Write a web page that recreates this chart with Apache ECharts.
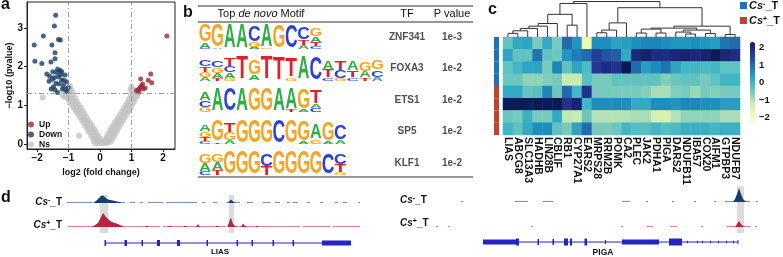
<!DOCTYPE html>
<html>
<head>
<meta charset="utf-8">
<title>Figure</title>
<script src="https://cdn.jsdelivr.net/npm/echarts@6.0.0/dist/echarts.min.js"></script>
<style>
  html, body { margin: 0; padding: 0; background: #fff; }
  #fig { width: 783px; height: 257px; }
</style>
</head>
<body>
<div id="fig"></div>
<script>
const FONT = '"Liberation Sans", Arial, sans-serif';

// ---------- a: volcano ----------
const upPts = [[2.12, 2.79], [1.29, 1.68], [1.61, 1.81], [1.53, 1.65], [1.64, 1.58], [1.35, 1.55],
  [1.27, 1.46], [1.22, 1.41], [1.16, 1.38], [1.37, 1.43], [1.43, 1.45], [1.24, 1.34], [1.31, 1.5]];
const downPts = [[-1.41, 3.33], [-1.45, 3.05], [-1.80, 2.79], [-1.32, 2.70], [-1.26, 2.69], [-2.09, 2.56],
  [-1.53, 2.56], [-1.43, 2.36], [-1.56, 2.12], [-2.07, 2.14], [-1.85, 2.08], [-1.43, 2.2], [-1.69, 1.81],
  [-1.51, 1.67], [-1.48, 1.48], [-1.43, 1.40], [-1.35, 1.33], [-1.11, 1.41], [-1.06, 1.61], [-1.22, 1.65],
  [-1.32, 1.74], [-1.22, 1.87], [-1.27, 1.90], [-1.11, 1.78], [-1.40, 1.57], [-1.16, 1.52], [-1.01, 1.46],
  [-1.50, 1.87], [-1.60, 1.75], [-1.38, 1.85], [-1.30, 1.55], [-1.20, 1.42], [-1.05, 1.35], [-1.62, 1.62],
  [-1.45, 1.72], [-1.15, 1.65], [-1.25, 1.78], [-1.35, 1.93], [-1.55, 1.42]];
const nsPts = [
  [-0.15, 0.02], [-0.05, 0.02], [0.05, 0.02], [0.15, 0.02], [0.22, 0.03],
  [-0.18, 0.08], [-0.08, 0.08], [0.02, 0.08], [0.12, 0.08],
  [-0.22, 0.15], [-0.12, 0.15], [-0.02, 0.15], [-0.28, 0.22], [-0.17, 0.22], [-0.07, 0.22],
  [-0.34, 0.3], [-0.24, 0.3], [-0.14, 0.3], [-0.40, 0.38], [-0.30, 0.38], [-0.19, 0.38],
  [-0.46, 0.46], [-0.36, 0.46], [-0.25, 0.46], [-0.52, 0.54], [-0.42, 0.54], [-0.31, 0.54],
  [-0.58, 0.62], [-0.48, 0.62], [-0.38, 0.62], [-0.64, 0.70], [-0.54, 0.70], [-0.44, 0.70],
  [-0.71, 0.78], [-0.61, 0.78], [-0.50, 0.78], [-0.77, 0.86], [-0.67, 0.86], [-0.56, 0.86],
  [-0.84, 0.94], [-0.73, 0.94], [-0.62, 0.94], [-0.90, 1.02], [-0.80, 1.02], [-0.69, 1.02],
  [-0.97, 1.10], [-0.86, 1.10], [-0.75, 1.10], [-1.03, 1.18], [-0.92, 1.18], [-0.80, 1.18],
  [-1.08, 1.26], [-0.98, 1.26], [-0.86, 1.26], [-0.97, 1.34], [-0.88, 1.34], [-0.99, 1.42],
  [-0.93, 1.42], [-0.96, 1.50], [-1.82, 1.20], [-0.67, 0.21], [-1.15, 1.22], [-1.20, 1.28],
  [0.25, 0.05], [0.32, 0.05], [0.18, 0.12], [0.28, 0.12], [0.38, 0.12],
  [0.22, 0.20], [0.33, 0.20], [0.44, 0.20], [0.27, 0.28], [0.38, 0.28], [0.49, 0.28],
  [0.32, 0.36], [0.43, 0.36], [0.54, 0.36], [0.38, 0.44], [0.49, 0.44], [0.60, 0.44],
  [0.45, 0.52], [0.55, 0.52], [0.66, 0.52], [0.51, 0.60], [0.61, 0.60], [0.72, 0.60],
  [0.57, 0.68], [0.67, 0.68], [0.78, 0.68], [0.64, 0.76], [0.74, 0.76], [0.84, 0.76],
  [0.70, 0.84], [0.80, 0.84], [0.90, 0.84], [0.76, 0.92], [0.86, 0.92], [0.95, 0.92],
  [0.82, 1.00], [0.92, 1.00], [1.00, 1.00], [0.88, 1.08], [0.97, 1.08], [1.06, 1.08],
  [0.93, 1.16], [1.03, 1.16], [1.12, 1.16], [0.98, 1.24], [1.08, 1.24], [1.18, 1.24],
  [1.02, 1.32], [1.12, 1.32], [0.97, 1.40], [1.06, 1.40], [1.00, 1.48]];
const fcCut = [-1, 1];
const pCut = 1.301;
const volcanoTicksX = [-2, -1, 0, 1, 2];
const volcanoTicksY = [0, 1, 2, 3];

// ---------- b: motif table (each position listed top to bottom: [letter, relative height]) ----------
const motifZNF341 = [
  [['G', .68], ['A', .2], ['C', .05]], [['G', .9], ['A', .05]], [['A', .95]], [['A', .95]],
  [['C', .62], ['G', .2], ['A', .08]], [['A', .9], ['G', .05]], [['G', .92]], [['C', .88]],
  [['C', .5], ['T', .22], ['A', .14]], [['G', .32], ['A', .22], ['T', .16], ['C', .12]]];
const motifFOXA3 = [
  [['C', .25], ['T', .22], ['G', .2], ['A', .15]], [['C', .28], ['G', .22], ['A', .2], ['T', .12]],
  [['T', .3], ['C', .25], ['A', .22], ['G', .1]], [['T', .92]], [['G', .6], ['A', .22]], [['T', .92]],
  [['T', .9]], [['T', .75], ['G', .12]], [['A', .92]], [['C', .9]],
  [['A', .35], ['T', .3], ['C', .12]], [['T', .38], ['C', .3], ['G', .1]], [['A', .35], ['T', .28], ['C', .12]],
  [['G', .38], ['A', .25], ['T', .12]], [['G', .35], ['C', .28], ['A', .15]]];
const motifETS1 = [
  [['A', .3], ['C', .28], ['G', .2]], [['A', .92]], [['C', .92]], [['A', .92]], [['G', .92]], [['G', .92]],
  [['A', .92]], [['A', .85], ['T', .08]], [['G', .82], ['A', .08]], [['T', .55], ['A', .18], ['C', .15]]];
const motifSP5 = [
  [['A', .28], ['G', .22], ['T', .18], ['C', .1]], [['G', .85], ['T', .05]], [['T', .35], ['G', .3], ['A', .15]],
  [['G', .88]], [['G', .9]], [['G', .9]], [['C', .88]], [['G', .88]], [['G', .8], ['A', .08]],
  [['A', .6], ['G', .18]], [['G', .72], ['A', .1]], [['C', .6], ['A', .15]]];
const motifKLF1 = [
  [['G', .35], ['A', .3], ['C', .15]], [['G', .3], ['A', .3], ['T', .2]], [['G', .88]], [['G', .88]], [['G', .88]],
  [['C', .45], ['T', .35]], [['G', .88]], [['G', .88]], [['G', .88]], [['G', .88]], [['C', .82]],
  [['C', .4], ['T', .32], ['G', .1]]];
const tfNames = ['ZNF341', 'FOXA3', 'ETS1', 'SP5', 'KLF1'];
const pValues = ['1e-3', '1e-2', '1e-2', '1e-2', '1e-2'];

// ---------- c: heatmap ----------
const genes = ['LIAS', 'ABCG8', 'SLC13A3', 'HADHB', 'LIN28B', 'CBLIF', 'RB1', 'CYP27A1', 'EARS2', 'MRPS28',
  'RRM2B', 'POMK', 'CA2', 'PLEC', 'JAK2', 'PDHA1', 'PIGA', 'DARS2', 'NDUFB11', 'IBA57', 'COX20', 'AIFM1',
  'GTPBP3', 'NDUFB7'];
const heatValues = [
  [-0.3, 0.2, 0.3, -0.5, 0.2, -0.5, 1.0, 0.5, -1.8, 0.6, 0.6, 0.3, 0.4, 0.6, 0.7, 0.7, 0.6, 0.5, 0.5, 0.6, 0.5, 0.4, 0.9, 1.0],
  [0.3, -0.3, -0.3, 0.9, -0.3, -0.4, 0.5, 0.8, 1.0, 1.6, 1.3, 1.2, 0.2, 2.0, 2.1, 1.9, 1.9, 2.0, 2.1, 2.0, 2.1, 2.3, 2.0, 1.9],
  [-0.3, 0.0, 0.3, 0.3, -0.5, 0.7, -0.3, 0.3, -0.1, 1.7, 1.9, 1.8, 2.3, 1.0, 0.4, 0.6, 0.9, 0.3, 0.0, 0.0, -0.1, 0.0, -0.3, -0.3],
  [-0.4, -0.4, -0.7, -0.7, -0.6, -0.5, -1.2, -1.2, -0.2, -0.5, -0.5, -0.3, -0.3, -0.3, -0.3, -0.3, -0.6, -0.4, -0.3, -0.3, -0.5, -0.3, 0.0, 0.0],
  [0.2, 0.2, -0.3, -0.2, 0.7, -0.4, 1.0, 0.0, 1.8, -0.5, -0.5, -0.5, -0.5, -0.5, -0.6, -0.9, -0.9, -0.6, -0.5, -0.8, -0.5, -0.6, -0.5, -0.5],
  [2.3, 2.3, 2.3, 2.3, 2.3, 2.3, 1.8, 2.1, 0.0, 0.6, 0.6, 0.6, 0.6, 0.2, 0.2, 0.6, 0.6, 0.5, 0.7, 0.7, 0.6, 0.6, 0.4, 0.4],
  [-0.4, -0.5, 0.1, -0.5, -0.5, 0.2, -1.1, -1.2, -0.4, -1.0, -1.0, -1.0, -1.0, -0.9, -0.9, -1.4, -1.4, -1.0, -0.7, -0.7, -0.7, -0.7, -0.9, -0.9],
  [0.0, -0.3, 0.2, 0.6, 0.6, -0.3, -0.5, 0.3, 1.0, -0.5, -0.5, -0.4, 0.0, -0.2, -0.2, 0.0, -0.2, -0.1, 0.1, 0.1, 0.1, 0.0, 0.1, 0.1]];
const rowGroups = [0, 0, 0, 0, 1, 1, 1, 1];
const groupSigns = ['-', '+'];
const groupColors = ['#1b75bb', '#c1432e'];
// merges: [childA, childB, height]; ids < 24 are leaves, 24+k is merge k
const dendroMerges = [
  [0, 1, 3.7], [24, 2, 6.3], [25, 3, 8.7], [26, 4, 11], [27, 5, 13.7], [6, 7, 12], [28, 29, 23], [30, 8, 34],
  [9, 10, 4.3], [32, 11, 7], [33, 12, 14.3], [13, 14, 4], [15, 16, 4], [35, 36, 8], [18, 19, 3], [17, 38, 5],
  [20, 21, 3.5], [39, 40, 7], [37, 41, 9], [22, 23, 2.5], [42, 43, 11], [34, 44, 29.7], [31, 45, 36]];
const colorTicks = [-2, -1, 0, 1, 2];
const heatMin = -2.3, heatMax = 2.3;
const ylgnbu = ['#ffffd9', '#edf8b1', '#c7e9b4', '#7fcdbb', '#41b6c4', '#1d91c0', '#225ea8', '#253494', '#081d58'];

// ---------- d: genome tracks (x = offset along track) ----------
const leftBlueSegs = [[5, 30], [33, 56], [56, 63], [68, 73], [78, 81], [86, 101], [105, 135], [140, 143], [151, 155],
  [165, 178], [185, 191], [201, 208], [213, 218], [225, 228], [231, 236], [245, 248], [258, 261], [273, 276],
  [281, 285], [296, 298]];
const leftBluePeaks = [
  [[31, 0], [34, 2], [37, 5], [39, 7], [41, 7.5], [43, 6], [45, 4], [48, 3], [51, 2.5], [54, 1.8], [57, 1], [60, 0]],
  [[166, 0], [168, 2.5], [169, 3.5], [170, 2.5], [172, 0.5], [174, 0]]];
const leftRedSegs = [[6, 34], [56, 98], [101, 163], [174, 238], [241, 268], [271, 298]];
const leftRedPeaks = [
  [[30, 0], [33, 2], [36, 4], [38, 8], [40, 12], [41.5, 14], [43, 11], [45, 9], [47, 7], [50, 5], [53, 4],
    [56, 3], [59, 1.5], [62, 0]],
  [[165, 0], [167, 4], [168, 8], [169, 9], [170, 6], [171, 3], [173, 1], [175, 0]],
  [[179, 0], [181, 3.5], [183, 1], [185, 0]],
  [[83, 0], [85, 1.2], [87, 0]], [[106, 0], [108, 1.5], [110, 0]], [[121, 0], [123, 1.5], [125, 0]],
  [[134, 0], [136, 3], [138, 0]], [[153, 0], [155, 1.5], [157, 0]], [[193, 0], [195, 1], [197, 0]]];
const leftHighlights = [[38, 46], [167, 172]];
const liasLine = [43, 289];
const liasExons = [[42.5, 44, 3], [62.5, 65, 3], [79.5, 81, 3], [95, 98, 3], [115, 118, 3], [144.5, 146, 3],
  [174.5, 176, 3], [189.5, 191, 3], [210.5, 212, 3], [230.5, 232, 3], [260, 289, 2.5]];

const rightBlueSegs = [[31, 33], [85, 98], [113, 123], [192, 200], [216, 218], [242, 244], [264, 266], [284, 286],
  [295, 320], [326, 328]];
const rightBluePeaks = [[[303, 0], [305, 3], [307, 8], [309, 14], [311, 8], [313, 3], [315, 1], [317, 0]]];
const rightRedSegs = [[6, 8], [18, 20], [101, 103], [191, 193], [217, 223], [240, 247], [271, 273], [297, 320], [325, 327]];
const rightRedPeaks = [[[305, 0], [307, 3], [309, 6], [311, 3], [313, 1], [315, 0]]];
const rightHighlights = [[307, 314]];
const pigaLine = [53, 308];
const pigaExons = [[53, 86, 2.5], [86, 89, 3.5], [107.5, 109, 3], [122.5, 124, 3], [134, 138, 3.5], [140, 142, 3.5],
  [154.5, 157, 3.5], [175, 176, 2], [192, 229, 2.5], [239, 252, 3.5], [257, 258, 1.2], [267, 268, 1.2],
  [272, 273, 1.2], [280, 281, 1.2], [288, 289, 1.2], [296, 297, 1.2], [303, 304, 1.2], [307.5, 308.5, 2]];

const blueTrack = '#163e6e', redTrack = '#b8243a', geneBlue = '#2323c8';

// ---------- layout helpers ----------
const LETTER_COLORS = { A: '#2fae45', C: '#2a3fe0', G: '#f7a520', T: '#e3202a' };
const LETTER_INK = { A: 0.72, C: 0.66, G: 0.70, T: 0.60 };
const LETTERS = 'ACGT';
const POS_W = 12.3;
const MOTIF_X_MAX = 274 / POS_W;
const TF_X = 208 / POS_W, PV_X = 253 / POS_W;
const LOGO_BASE = 0.4, LOGO_H = 0.79;

const logoData = [];
[motifZNF341, motifFOXA3, motifETS1, motifSP5, motifKLF1].forEach(function (m, r) {
  m.forEach(function (stack, p) {
    let b = 0;
    for (let k = stack.length - 1; k >= 0; k--) {
      logoData.push([r, p, LETTERS.indexOf(stack[k][0]), b, stack[k][1]]);
      b += stack[k][1];
    }
  });
});

const heatData = [];
heatValues.forEach(function (row, r) {
  row.forEach(function (v, c) { heatData.push([c, r, v]); });
});

// dendrogram node positions
const nodeX = genes.map(function (g, i) { return i; });
const nodeH = genes.map(function () { return 0; });
const dendroData = dendroMerges.map(function (m) {
  const a = m[0], b = m[1];
  const item = [nodeX[a], nodeH[a], nodeX[b], nodeH[b], m[2]];
  nodeX.push((nodeX[a] + nodeX[b]) / 2);
  nodeH.push(m[2]);
  return item;
});

function txt(x, y, text, font, align) {
  return {
    type: 'text', x: x, y: y,
    style: { text: text, font: font, fill: '#111', align: align || 'left', verticalAlign: 'middle', legacy: false }
  };
}
function csLabel(sign, x, y, align, size) {
  return {
    type: 'text', x: x, y: y,
    style: {
      text: '{i|Cs}{s|' + sign + '}{n|_T}', align: align, verticalAlign: 'middle', legacy: false,
      rich: {
        i: { font: 'italic bold ' + size + 'px ' + FONT, fill: '#111' },
        s: { font: 'bold ' + Math.round(size * 0.65) + 'px ' + FONT, fill: '#111', verticalAlign: 'top' },
        n: { font: 'bold ' + size + 'px ' + FONT, fill: '#111' }
      }
    }
  };
}
function hidden(gridIndex, min, max, extra) {
  return Object.assign({ type: 'value', gridIndex: gridIndex, min: min, max: max, show: false }, extra || {});
}
function minusFmt(v) { return v < 0 ? '\u2212' + Math.abs(v) : String(v); }

function segSeries(g, segs, color) {
  return {
    type: 'custom', xAxisIndex: g, yAxisIndex: g, z: 3, silent: true, data: segs,
    renderItem: function (params, api) {
      const a = api.coord([api.value(0), 0]), b = api.coord([api.value(1), 1.1]);
      return { type: 'rect', shape: { x: a[0], y: b[1], width: Math.max(b[0] - a[0], 1), height: a[1] - b[1] },
        style: { fill: color, opacity: 0.55 } };
    }
  };
}
function peakSeries(g, peaks, color) {
  return {
    type: 'custom', xAxisIndex: g, yAxisIndex: g, z: 4, silent: true,
    data: peaks.map(function (p, i) { return [p[0][0], i]; }),
    renderItem: function (params, api) {
      const pts = peaks[params.dataIndex].map(function (p) { return api.coord(p); });
      return { type: 'polygon', shape: { points: pts }, style: { fill: color } };
    }
  };
}
function hlSeries(g, spans) {
  return {
    type: 'custom', xAxisIndex: g, yAxisIndex: g, z: 1, silent: true, data: spans,
    renderItem: function (params, api) {
      const a = api.coord([api.value(0), 0]), b = api.coord([api.value(1), 1]);
      return { type: 'rect', shape: { x: a[0], y: b[1], width: b[0] - a[0], height: a[1] - b[1] },
        style: { fill: '#dcdcdc' } };
    }
  };
}
function exonSeries(g, exons) {
  return {
    type: 'custom', xAxisIndex: g, yAxisIndex: g, z: 4, silent: true, data: exons,
    renderItem: function (params, api) {
      const hh = api.value(2);
      const a = api.coord([api.value(0), hh]), b = api.coord([api.value(1), -hh]);
      return { type: 'rect', shape: { x: a[0], y: a[1], width: Math.max(b[0] - a[0], 1), height: b[1] - a[1] },
        style: { fill: geneBlue } };
    }
  };
}
function geneLine(g, span) {
  return {
    type: 'line', xAxisIndex: g, yAxisIndex: g, z: 3, silent: true, symbol: 'none',
    data: [[span[0], 0], [span[1], 0]], lineStyle: { color: geneBlue, width: 1 }
  };
}

const option = {
  animation: false,
  backgroundColor: '#fff',
  textStyle: { fontFamily: FONT },
  legend: {
    data: ['Up', 'Down', 'Ns'], orient: 'vertical', left: 28, top: 120, padding: 0,
    itemWidth: 6, itemHeight: 6, itemGap: 1, icon: 'circle', selectedMode: false,
    textStyle: { fontSize: 8.5, fontWeight: 'bold', color: '#111', fontFamily: FONT }
  },
  visualMap: {
    type: 'continuous', seriesIndex: 6, min: heatMin, max: heatMax, orient: 'vertical',
    left: 750, top: 42, itemWidth: 5, itemHeight: 81, padding: 0, calculable: false,
    inRange: { color: ylgnbu }
  },
  grid: [
    { left: 27, top: 2, width: 148, height: 147, show: true, borderColor: '#222', borderWidth: 1 },
    { left: 199, top: 22, width: 274, height: 155 },
    { left: 503, top: 37, width: 237, height: 98 },
    { left: 750, top: 42, width: 5, height: 81 },
    { left: 494, top: 37, width: 5, height: 98 },
    { left: 503, top: 1, width: 237, height: 36 },
    { left: 62, top: 195, width: 300, height: 38 },
    { left: 62, top: 188, width: 300, height: 15 },
    { left: 62, top: 209, width: 300, height: 18 },
    { left: 62, top: 237, width: 300, height: 12 },
    { left: 430, top: 186, width: 335, height: 47 },
    { left: 430, top: 186, width: 335, height: 16 },
    { left: 430, top: 209, width: 335, height: 18 },
    { left: 430, top: 236, width: 335, height: 12 }
  ],
  xAxis: [
    {
      type: 'value', gridIndex: 0, min: -2.32, max: 2.38,
      name: 'log2 (fold change)', nameLocation: 'middle', nameGap: 17,
      nameTextStyle: { fontSize: 9, fontWeight: 'bold', color: '#111' },
      axisLine: { show: true, onZero: false, lineStyle: { color: '#222' } },
      axisTick: { show: true, length: 3, customValues: volcanoTicksX, lineStyle: { color: '#222' } },
      axisLabel: { customValues: volcanoTicksX, formatter: minusFmt, fontSize: 10, fontWeight: 'bold', color: '#111', margin: 4 },
      splitLine: { show: false }
    },
    hidden(1, 0, MOTIF_X_MAX),
    {
      type: 'category', gridIndex: 2, data: genes,
      axisLine: { show: false }, axisTick: { show: false }, splitLine: { show: false },
      axisLabel: { rotate: -90, interval: 0, margin: 2, fontSize: 10.5, fontWeight: 'bold', color: '#111' }
    },
    hidden(3, 0, 1),
    hidden(4, 0, 1),
    hidden(5, -0.5, 23.5),
    hidden(6, 0, 300), hidden(7, 0, 300), hidden(8, 0, 300), hidden(9, 0, 300),
    hidden(10, 0, 335), hidden(11, 0, 335), hidden(12, 0, 335), hidden(13, 0, 335)
  ],
  yAxis: [
    {
      type: 'value', gridIndex: 0, min: -0.13, max: 3.67,
      name: '\u2212log10 (pvalue)', nameLocation: 'middle', nameGap: 13, nameRotate: 90,
      nameTextStyle: { fontSize: 9, fontWeight: 'bold', color: '#111' },
      axisLine: { show: true, onZero: false, lineStyle: { color: '#222' } },
      axisTick: { show: true, length: 3, customValues: volcanoTicksY, lineStyle: { color: '#222' } },
      axisLabel: { customValues: volcanoTicksY, fontSize: 10, fontWeight: 'bold', color: '#111', margin: 4 },
      splitLine: { show: false }
    },
    hidden(1, -0.476, 4.444, { inverse: true }),
    { type: 'category', gridIndex: 2, data: heatValues.map(function (r, i) { return 'r' + i; }), inverse: true, show: false },
    {
      type: 'value', gridIndex: 3, min: heatMin, max: heatMax, position: 'right',
      axisLine: { show: false }, axisTick: { show: false }, splitLine: { show: false },
      axisLabel: { customValues: colorTicks, formatter: minusFmt, margin: 4, fontSize: 9.5, fontWeight: 'bold', color: '#111' }
    },
    { type: 'category', gridIndex: 4, data: rowGroups.map(function (g, i) { return 'g' + i; }), inverse: true, show: false },
    hidden(5, 0, 36.5),
    hidden(6, 0, 1), hidden(7, 0, 15), hidden(8, 0, 18), hidden(9, -6, 6),
    hidden(10, 0, 1), hidden(11, 0, 16), hidden(12, 0, 18), hidden(13, -6, 6)
  ],
  series: [
    {
      type: 'scatter', xAxisIndex: 0, yAxisIndex: 0, data: [[0, 0]], symbolSize: 0, z: 1, silent: true,
      markLine: {
        silent: true, symbol: ['none', 'none'], label: { show: false },
        lineStyle: { color: '#9a9a9a', width: 1, type: [5, 3, 1, 3] },
        data: [{ xAxis: fcCut[0] }, { xAxis: fcCut[1] }, { yAxis: pCut }]
      }
    },
    { name: 'Ns', type: 'scatter', xAxisIndex: 0, yAxisIndex: 0, data: nsPts, symbolSize: 6, z: 2, itemStyle: { color: '#c3c3c3' } },
    { name: 'Down', type: 'scatter', xAxisIndex: 0, yAxisIndex: 0, data: downPts, symbolSize: 5, z: 3, itemStyle: { color: '#163f63' } },
    { name: 'Up', type: 'scatter', xAxisIndex: 0, yAxisIndex: 0, data: upPts, symbolSize: 5, z: 3, itemStyle: { color: '#9e2833' } },
    {
      type: 'custom', xAxisIndex: 1, yAxisIndex: 1, silent: true, data: logoData,
      renderItem: function (params, api) {
        const row = api.value(0), pos = api.value(1), letter = LETTERS[api.value(2)];
        const b = api.value(3), h = api.value(4);
        const xl = api.coord([pos, row])[0], xr = api.coord([pos + 1, row])[0];
        const yb = api.coord([pos, row + LOGO_BASE - b * LOGO_H])[1];
        const yt = api.coord([pos, row + LOGO_BASE - (b + h) * LOGO_H])[1];
        const F = 20;
        return {
          type: 'text', x: (xl + xr) / 2, y: (yb + yt) / 2,
          scaleX: (xr - xl) * 0.94 / (LETTER_INK[letter] * F),
          scaleY: Math.abs(yb - yt) / (0.716 * F),
          style: { text: letter, font: 'bold 20px ' + FONT, fill: LETTER_COLORS[letter], align: 'center', verticalAlign: 'middle', legacy: false }
        };
      }
    },
    {
      type: 'scatter', xAxisIndex: 1, yAxisIndex: 1, symbolSize: 0, silent: true,
      data: tfNames.map(function (n, i) { return { name: n, value: [TF_X, i] }; })
        .concat(pValues.map(function (n, i) { return { name: n, value: [PV_X, i] }; })),
      label: { show: true, position: 'inside', formatter: '{b}', fontSize: 10, fontWeight: 'bold', color: '#222' }
    },
    {
      type: 'heatmap', xAxisIndex: 2, yAxisIndex: 2, data: heatData, silent: true,
      emphasis: { disabled: true }, itemStyle: { borderWidth: 0 }
    },
    { type: 'scatter', xAxisIndex: 3, yAxisIndex: 3, data: [], silent: true },
    {
      type: 'bar', xAxisIndex: 4, yAxisIndex: 4, barWidth: '100%', silent: true,
      data: rowGroups.map(function (g) { return { value: 1, itemStyle: { color: groupColors[g] } }; })
    },
    {
      type: 'custom', xAxisIndex: 5, yAxisIndex: 5, silent: true, data: dendroData,
      renderItem: function (params, api) {
        const pts = [
          api.coord([api.value(0), api.value(1)]), api.coord([api.value(0), api.value(4)]),
          api.coord([api.value(2), api.value(4)]), api.coord([api.value(2), api.value(3)])];
        return { type: 'polyline', shape: { points: pts }, style: { stroke: '#333', lineWidth: 1, fill: 'none' } };
      }
    },
    hlSeries(6, leftHighlights),
    segSeries(7, leftBlueSegs, blueTrack), peakSeries(7, leftBluePeaks, blueTrack),
    segSeries(8, leftRedSegs, redTrack), peakSeries(8, leftRedPeaks, redTrack),
    geneLine(9, liasLine), exonSeries(9, liasExons),
    hlSeries(10, rightHighlights),
    segSeries(11, rightBlueSegs, blueTrack), peakSeries(11, rightBluePeaks, blueTrack),
    segSeries(12, rightRedSegs, redTrack), peakSeries(12, rightRedPeaks, redTrack),
    geneLine(13, pigaLine), exonSeries(13, pigaExons)
  ],
  graphic: [
    txt(1, 4.3, 'a', 'bold 16px ' + FONT),
    txt(183, 12.8, 'b', 'bold 16px ' + FONT),
    txt(488, 9.5, 'c', 'bold 16px ' + FONT),
    txt(1, 197.5, 'd', 'bold 16px ' + FONT),
    { type: 'line', shape: { x1: 198, y1: 6, x2: 473, y2: 6 }, style: { stroke: '#333', lineWidth: 1.2 } },
    { type: 'line', shape: { x1: 198, y1: 22, x2: 473, y2: 22 }, style: { stroke: '#333', lineWidth: 1.2 } },
    { type: 'line', shape: { x1: 198, y1: 177, x2: 473, y2: 177 }, style: { stroke: '#333', lineWidth: 1.2 } },
    {
      type: 'text', x: 261, y: 14,
      style: {
        text: '{n|Top }{i|de novo}{n| Motif}', align: 'center', verticalAlign: 'middle', legacy: false,
        rich: { n: { font: '11px ' + FONT, fill: '#111' }, i: { font: 'italic 11px ' + FONT, fill: '#111' } }
      }
    },
    txt(407, 14, 'TF', '11px ' + FONT, 'center'),
    txt(452, 14, 'P value', '11px ' + FONT, 'center'),
    { type: 'rect', shape: { x: 740, y: 2, width: 7, height: 7 }, style: { fill: groupColors[0] } },
    { type: 'rect', shape: { x: 740, y: 17, width: 7, height: 7 }, style: { fill: groupColors[1] } },
    csLabel(groupSigns[0], 749, 6, 'left', 11),
    csLabel(groupSigns[1], 749, 21, 'left', 11),
    csLabel(groupSigns[0], 62, 202, 'right', 10),
    csLabel(groupSigns[1], 62, 225, 'right', 10),
    csLabel(groupSigns[0], 400, 200, 'left', 10),
    csLabel(groupSigns[1], 400, 223, 'left', 10),
    txt(220, 252, 'LIAS', 'bold 8px ' + FONT, 'center'),
    txt(603, 253, 'PIGA', 'bold 8.5px ' + FONT, 'center')
  ]
};

const chart = echarts.init(document.getElementById('fig'));
chart.setOption(option);
</script>
</body>
</html>
